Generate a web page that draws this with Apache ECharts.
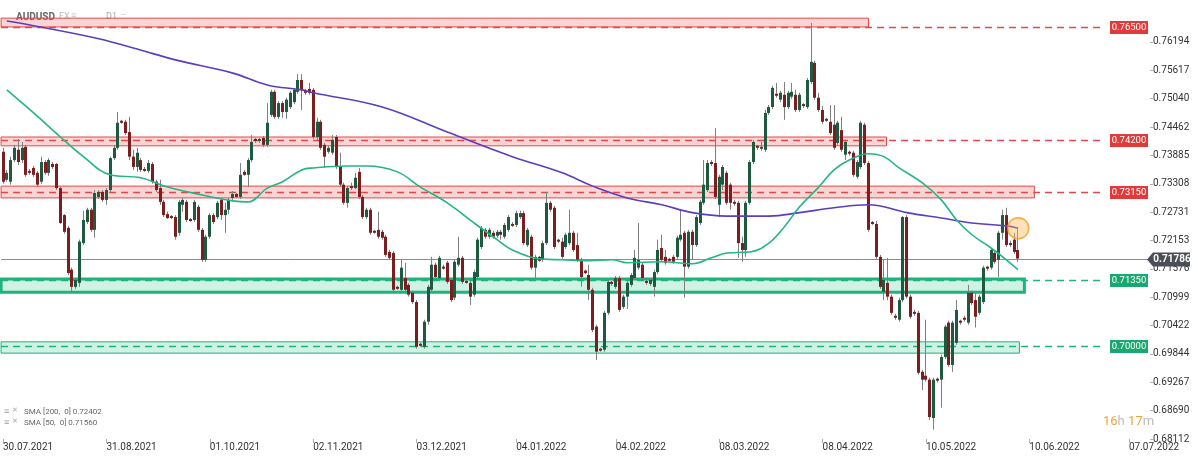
<!DOCTYPE html>
<html><head><meta charset="utf-8">
<script src="https://cdn.jsdelivr.net/npm/echarts@6/dist/echarts.min.js"></script>
<style>html,body{margin:0;padding:0;background:#fff}#c{width:1200px;height:458px}</style>
</head><body><div id="c"></div>
<script>
// ---- DATA ----
const symbol = 'AUDUSD';
const opens = [
0.7396,0.7339,0.7335,0.7379,0.7400,0.7379,0.7406,0.7357,0.7363,0.7353,
0.7335,0.7375,0.7353,0.7371,0.7371,0.7322,0.7267,0.7241,0.7156,0.7121,
0.7129,0.7210,0.7253,0.7278,0.7237,0.7304,0.7314,0.7298,0.7318,0.7383,
0.7404,0.7459,0.7457,0.7436,0.7386,0.7365,0.7379,0.7361,0.7357,0.7371,
0.7335,0.7322,0.7294,0.7269,0.7265,0.7263,0.7231,0.7288,0.7294,0.7259,
0.7257,0.7284,0.7237,0.7176,0.7223,0.7267,0.7263,0.7298,0.7267,0.7278,
0.7302,0.7310,0.7304,0.7355,0.7349,0.7379,0.7422,0.7418,0.7424,0.7410,
0.7471,0.7518,0.7467,0.7495,0.7477,0.7487,0.7497,0.7518,0.7542,0.7520,
0.7524,0.7522,0.7426,0.7457,0.7410,0.7396,0.7394,0.7426,0.7365,0.7329,
0.7292,0.7326,0.7322,0.7355,0.7304,0.7263,0.7278,0.7235,0.7237,0.7233,
0.7223,0.7192,0.7190,0.7121,0.7115,0.7139,0.7125,0.7109,0.7090,0.7005,
0.6999,0.7050,0.7115,0.7166,0.7139,0.7162,0.7170,0.7135,0.7099,0.7166,
0.7180,0.7133,0.7129,0.7105,0.7141,0.7202,0.7237,0.7223,0.7231,0.7225,
0.7233,0.7223,0.7237,0.7249,0.7247,0.7263,0.7271,0.7206,0.7223,0.7160,
0.7182,0.7176,0.7210,0.7292,0.7282,0.7217,0.7213,0.7202,0.7210,0.7231,
0.7206,0.7176,0.7154,0.7145,0.7115,0.7040,0.6995,0.6993,0.7068,0.7131,
0.7121,0.7139,0.7080,0.7101,0.7125,0.7139,0.7160,0.7166,0.7133,0.7127,
0.7121,0.7151,0.7200,0.7182,0.7178,0.7182,0.7182,0.7217,0.7231,0.7162,
0.7233,0.7206,0.7251,0.7292,0.7318,0.7375,0.7373,0.7288,0.7329,0.7353,
0.7329,0.7294,0.7292,0.7210,0.7196,0.7292,0.7375,0.7408,0.7402,0.7400,
0.7475,0.7487,0.7514,0.7502,0.7512,0.7487,0.7508,0.7512,0.7481,0.7493,
0.7487,0.7538,0.7577,0.7506,0.7481,0.7463,0.7457,0.7451,0.7414,0.7440,
0.7390,0.7396,0.7394,0.7345,0.7365,0.7451,0.7373,0.7253,0.7249,0.7182,
0.7111,0.7129,0.7101,0.7062,0.7054,0.7094,0.7263,0.7101,0.7070,0.7068,
0.6948,0.6940,0.6932,0.6854,0.6934,0.6932,0.6978,0.7048,0.6962,0.7007,
0.7052,0.7058,0.7048,0.7109,0.7094,0.7068,0.7090,0.7162,0.7160,0.7190,
0.7176,0.7231,0.7267,0.7210,0.7217,0.7196];
const highs = [
0.7404,0.7359,0.7386,0.7410,0.7422,0.7416,0.7410,0.7361,0.7367,0.7357,
0.7386,0.7379,0.7383,0.7375,0.7373,0.7324,0.7269,0.7245,0.7160,0.7139,
0.7217,0.7276,0.7282,0.7282,0.7318,0.7318,0.7318,0.7322,0.7386,0.7410,
0.7477,0.7461,0.7461,0.7467,0.7400,0.7404,0.7383,0.7365,0.7379,0.7375,
0.7339,0.7339,0.7298,0.7274,0.7267,0.7267,0.7298,0.7302,0.7298,0.7261,
0.7298,0.7288,0.7241,0.7227,0.7271,0.7271,0.7296,0.7302,0.7292,0.7302,
0.7316,0.7312,0.7373,0.7359,0.7383,0.7430,0.7424,0.7424,0.7428,0.7495,
0.7522,0.7522,0.7499,0.7499,0.7506,0.7520,0.7526,0.7554,0.7554,0.7524,
0.7536,0.7526,0.7465,0.7461,0.7414,0.7408,0.7430,0.7430,0.7394,0.7333,
0.7326,0.7333,0.7353,0.7363,0.7308,0.7282,0.7282,0.7237,0.7274,0.7237,
0.7227,0.7196,0.7194,0.7123,0.7176,0.7170,0.7129,0.7113,0.7094,0.7007,
0.7054,0.7125,0.7182,0.7170,0.7184,0.7166,0.7174,0.7139,0.7176,0.7223,
0.7184,0.7135,0.7133,0.7156,0.7221,0.7245,0.7241,0.7241,0.7235,0.7237,
0.7237,0.7251,0.7267,0.7253,0.7276,0.7276,0.7276,0.7241,0.7227,0.7186,
0.7184,0.7215,0.7314,0.7296,0.7286,0.7219,0.7221,0.7231,0.7278,0.7235,
0.7231,0.7180,0.7156,0.7166,0.7119,0.7044,0.6997,0.7072,0.7135,0.7133,
0.7143,0.7143,0.7105,0.7133,0.7149,0.7196,0.7251,0.7170,0.7135,0.7139,
0.7156,0.7217,0.7227,0.7196,0.7180,0.7186,0.7225,0.7278,0.7235,0.7237,
0.7237,0.7267,0.7298,0.7379,0.7379,0.7379,0.7444,0.7349,0.7369,0.7357,
0.7333,0.7298,0.7296,0.7223,0.7296,0.7379,0.7420,0.7410,0.7416,0.7481,
0.7491,0.7530,0.7536,0.7520,0.7538,0.7520,0.7536,0.7522,0.7516,0.7495,
0.7546,0.7658,0.7581,0.7516,0.7489,0.7465,0.7491,0.7491,0.7459,0.7467,
0.7420,0.7398,0.7398,0.7379,0.7459,0.7455,0.7377,0.7255,0.7255,0.7186,
0.7176,0.7180,0.7105,0.7066,0.7099,0.7265,0.7267,0.7105,0.7074,0.7072,
0.6952,0.7054,0.6936,0.6936,0.6936,0.6983,0.7044,0.7052,0.7052,0.7094,
0.7054,0.7062,0.7125,0.7113,0.7109,0.7105,0.7164,0.7164,0.7200,0.7194,
0.7235,0.7278,0.7282,0.7215,0.7231,0.7243];
const lows = [
0.7331,0.7335,0.7329,0.7375,0.7369,0.7373,0.7345,0.7349,0.7345,0.7324,
0.7331,0.7349,0.7347,0.7361,0.7318,0.7249,0.7229,0.7145,0.7109,0.7117,
0.7121,0.7206,0.7249,0.7233,0.7221,0.7300,0.7294,0.7288,0.7314,0.7379,
0.7400,0.7453,0.7430,0.7379,0.7359,0.7355,0.7355,0.7355,0.7353,0.7331,
0.7314,0.7288,0.7263,0.7259,0.7259,0.7217,0.7225,0.7274,0.7253,0.7253,
0.7253,0.7233,0.7172,0.7172,0.7219,0.7249,0.7259,0.7257,0.7231,0.7269,
0.7298,0.7302,0.7300,0.7347,0.7324,0.7375,0.7414,0.7414,0.7406,0.7406,
0.7467,0.7463,0.7463,0.7465,0.7463,0.7483,0.7493,0.7514,0.7481,0.7512,
0.7512,0.7422,0.7420,0.7400,0.7363,0.7392,0.7390,0.7361,0.7324,0.7288,
0.7282,0.7318,0.7320,0.7300,0.7259,0.7259,0.7227,0.7229,0.7219,0.7217,
0.7182,0.7176,0.7111,0.7115,0.7111,0.7111,0.7101,0.7086,0.6995,0.6999,
0.6995,0.7044,0.7111,0.7137,0.7135,0.7156,0.7127,0.7090,0.7094,0.7162,
0.7127,0.7127,0.7084,0.7101,0.7137,0.7198,0.7219,0.7219,0.7219,0.7221,
0.7217,0.7219,0.7233,0.7243,0.7243,0.7259,0.7206,0.7202,0.7156,0.7135,
0.7172,0.7172,0.7206,0.7274,0.7198,0.7210,0.7178,0.7198,0.7206,0.7192,
0.7172,0.7121,0.7147,0.7094,0.7029,0.6972,0.6989,0.6989,0.7064,0.7123,
0.7117,0.7070,0.7076,0.7076,0.7121,0.7135,0.7156,0.7135,0.7125,0.7123,
0.7101,0.7147,0.7172,0.7166,0.7172,0.7168,0.7178,0.7213,0.7099,0.7158,
0.7176,0.7202,0.7247,0.7288,0.7314,0.7367,0.7300,0.7263,0.7318,0.7288,
0.7278,0.7286,0.7180,0.7172,0.7182,0.7288,0.7371,0.7400,0.7398,0.7396,
0.7471,0.7483,0.7506,0.7497,0.7461,0.7483,0.7504,0.7477,0.7477,0.7485,
0.7483,0.7534,0.7502,0.7477,0.7453,0.7457,0.7430,0.7400,0.7410,0.7396,
0.7379,0.7388,0.7345,0.7341,0.7361,0.7369,0.7233,0.7247,0.7178,0.7117,
0.7094,0.7094,0.7064,0.7054,0.7050,0.7090,0.7097,0.7056,0.7062,0.6942,
0.6911,0.6928,0.6850,0.6830,0.6926,0.6875,0.6974,0.6958,0.6948,0.7003,
0.7044,0.7050,0.7044,0.7084,0.7038,0.7064,0.7086,0.7154,0.7156,0.7168,
0.7141,0.7217,0.7202,0.7202,0.7188,0.7172];
const closes = [
0.7335,0.7353,0.7379,0.7404,0.7375,0.7404,0.7349,0.7353,0.7349,0.7329,
0.7375,0.7353,0.7379,0.7365,0.7322,0.7251,0.7233,0.7149,0.7121,0.7135,
0.7213,0.7257,0.7278,0.7237,0.7312,0.7314,0.7298,0.7318,0.7383,0.7404,
0.7455,0.7455,0.7434,0.7386,0.7365,0.7394,0.7359,0.7357,0.7373,0.7335,
0.7318,0.7294,0.7267,0.7261,0.7261,0.7223,0.7294,0.7298,0.7257,0.7255,
0.7294,0.7237,0.7176,0.7223,0.7267,0.7253,0.7292,0.7267,0.7278,0.7298,
0.7310,0.7304,0.7349,0.7349,0.7379,0.7416,0.7418,0.7422,0.7410,0.7455,
0.7518,0.7467,0.7495,0.7477,0.7502,0.7516,0.7522,0.7542,0.7522,0.7516,
0.7516,0.7426,0.7457,0.7404,0.7386,0.7404,0.7420,0.7365,0.7329,0.7292,
0.7322,0.7322,0.7343,0.7304,0.7263,0.7278,0.7231,0.7231,0.7223,0.7221,
0.7186,0.7180,0.7115,0.7117,0.7160,0.7115,0.7105,0.7090,0.6999,0.7001,
0.7050,0.7121,0.7166,0.7141,0.7180,0.7158,0.7131,0.7094,0.7172,0.7180,
0.7131,0.7129,0.7101,0.7151,0.7217,0.7241,0.7223,0.7237,0.7223,0.7233,
0.7227,0.7247,0.7263,0.7245,0.7271,0.7271,0.7210,0.7237,0.7160,0.7182,
0.7174,0.7210,0.7292,0.7278,0.7202,0.7213,0.7182,0.7227,0.7231,0.7196,
0.7176,0.7141,0.7149,0.7115,0.7033,0.6989,0.6991,0.7068,0.7131,0.7127,
0.7139,0.7074,0.7101,0.7129,0.7145,0.7180,0.7176,0.7139,0.7129,0.7135,
0.7151,0.7196,0.7176,0.7170,0.7174,0.7172,0.7221,0.7227,0.7162,0.7233,
0.7206,0.7263,0.7294,0.7329,0.7373,0.7371,0.7304,0.7345,0.7365,0.7292,
0.7292,0.7290,0.7210,0.7196,0.7292,0.7375,0.7416,0.7404,0.7406,0.7475,
0.7487,0.7526,0.7510,0.7516,0.7487,0.7516,0.7518,0.7481,0.7512,0.7489,
0.7542,0.7579,0.7506,0.7481,0.7457,0.7459,0.7434,0.7404,0.7455,0.7400,
0.7416,0.7392,0.7349,0.7375,0.7455,0.7373,0.7237,0.7249,0.7182,0.7121,
0.7135,0.7101,0.7068,0.7058,0.7094,0.7263,0.7101,0.7060,0.7066,0.6946,
0.6932,0.6932,0.6856,0.6932,0.6930,0.6978,0.7040,0.6962,0.7048,0.7074,
0.7048,0.7054,0.7109,0.7088,0.7060,0.7101,0.7160,0.7158,0.7196,0.7172,
0.7231,0.7267,0.7206,0.7206,0.7192,0.71786];

const sma200Idx = [1,7,25,35,45,60,69,78,81,99,116,133,146,154,163,172,180,189,200,208,217,226,236,245,253,262,265];
const sma200Val = [0.7662,0.7654,0.7626,0.7605,0.7583,0.7556,0.7532,0.7522,0.7516,0.7487,0.7436,0.7386,0.7353,0.7326,0.7302,0.7288,0.7272,0.7265,0.7265,0.7272,0.7282,0.7288,0.7272,0.7261,0.7251,0.7245,0.72402];
const sma50Idx = [1,8,15,21,28,36,43,52,60,64,69,73,78,81,90,95,103,109,116,123,129,133,140,146,153,159,163,172,180,185,189,195,200,204,208,213,217,221,226,230,234,240,245,249,253,258,262,265];
const sma50Val = [0.7522,0.7475,0.7426,0.7386,0.7349,0.7343,0.7324,0.7308,0.7296,0.7294,0.7322,0.7335,0.7359,0.7363,0.7367,0.7367,0.7355,0.7324,0.7292,0.7251,0.7217,0.7196,0.7178,0.7176,0.7174,0.7176,0.7170,0.7172,0.7168,0.7180,0.7190,0.7192,0.7210,0.7243,0.7284,0.7324,0.7359,0.7379,0.7392,0.7386,0.7363,0.7333,0.7298,0.7257,0.7227,0.7200,0.7176,0.7156];

const xTickIdx = [0,27,54,81,108,134,160,187,214,241,268,294];
const xTickLabels = ['30.07.2021','31.08.2021','01.10.2021','02.11.2021','03.12.2021','04.01.2022','04.02.2022','08.03.2022','08.04.2022','10.05.2022','10.06.2022','07.07.2022'];
const yTicks = [0.76194,0.75617,0.75040,0.74462,0.73885,0.73308,0.72731,0.72153,0.71576,0.70999,0.70422,0.69844,0.69267,0.68690,0.68112];

const levelValues = [0.7650, 0.7420, 0.7315, 0.7135, 0.7000];
const levelKind   = ['R','R','R','S','S'];
const zoneTop     = [0.7668, 0.7426, 0.7326, 0.7137, 0.7009];
const zoneBottom  = [0.7650, 0.7408, 0.7302, 0.7110, 0.6986];
const zoneEnd     = [226, 230.7, 269.3, 266.7, 265.4];

const lastPrice = 0.71786;
const sma200Last = 0.72402;
const sma50Last = 0.71560;
const timerHours = 16, timerMinutes = 17;

// ---- CHART ----
const FONT = 'Roboto, "Noto Sans", sans-serif';
const chart = echarts.init(document.getElementById('c'), null, {renderer: 'canvas'});
const candleData = opens.map((o, i) => [i, o, closes[i], lows[i], highs[i]]);
const zoneData = levelValues.map((v, k) => [zoneEnd[k], zoneTop[k], zoneBottom[k], v, k]);
const lastIdx = opens.length - 1;

const option = {
  animation: false,
  textStyle: {fontFamily: FONT},
  grid: {left: 0, top: 0, width: 1150, height: 439},
  xAxis: {
    type: 'value', min: -0.5, max: 299.5,
    axisLine: {show: false, onZero: false}, splitLine: {show: false},
    axisTick: {show: true, customValues: xTickIdx, length: 4, lineStyle: {color: '#b0b0b0'}},
    axisLabel: {
      customValues: xTickIdx,
      formatter: v => { const k = xTickIdx.indexOf(Math.round(v)); return k >= 0 ? xTickLabels[k] : ''; },
      align: 'left', margin: 3, color: '#333', fontSize: 10, fontFamily: FONT
    }
  },
  yAxis: {
    type: 'value', position: 'right', min: 0.68112, max: 0.77049,
    axisLine: {show: false, onZero: false}, splitLine: {show: false},
    axisTick: {show: true, customValues: yTicks, length: 3, lineStyle: {color: '#b0b0b0'}},
    axisLabel: {customValues: yTicks, formatter: v => v.toFixed(5), margin: 3, color: '#333', fontSize: 10, fontFamily: FONT}
  },
  series: [
    { // zones, dashed levels and level tags
      type: 'custom', z: 1, silent: true, clip: false,
      data: zoneData, encode: {x: 0, y: [1, 2, 3]},
      renderItem(params, api) {
        const k = api.value(4);
        const sup = levelKind[k] === 'S';
        const cs = params.coordSys;
        const p0 = api.coord([-0.5, api.value(1)]);
        const p1 = api.coord([api.value(0), api.value(2)]);
        const pl = api.coord([-0.5, api.value(3)]);
        const lineEnd = cs.x + cs.width - 45;
        const col = sup ? '#1db37c' : '#e2484a';
        const fill = sup ? 'rgba(40,195,135,0.22)' : 'rgba(240,95,95,0.27)';
        const bw = (sup && k === 3) ? 3 : 1;
        const y = Math.round(pl[1]) + 0.5;
        return {type: 'group', children: [
          {type: 'rect', shape: {x: p0[0], y: p0[1], width: p1[0] - p0[0], height: p1[1] - p0[1]},
           style: {fill: fill, stroke: col, lineWidth: bw}},
          {type: 'line', shape: {x1: p0[0], y1: y, x2: lineEnd, y2: y},
           style: {stroke: col, lineWidth: 1.5, lineDash: [7, 5]}},
          {type: 'rect', shape: {x: lineEnd + 5, y: y - 6.5, width: 38, height: 13},
           style: {fill: sup ? '#19a871' : '#e03a3a'}},
          {type: 'text', style: {x: lineEnd + 24, y: y, text: api.value(3).toFixed(5), fill: '#fff',
            font: '9.5px ' + FONT, align: 'center', verticalAlign: 'middle'}}
        ]};
      }
    },
    { // current price line + tag
      type: 'custom', z: 2, silent: true, clip: false,
      data: [[lastIdx, lastPrice]], encode: {x: 0, y: 1},
      renderItem(params, api) {
        const cs = params.coordSys;
        const p = api.coord([0, api.value(1)]);
        const y = Math.round(p[1]) + 0.5;
        const x0 = cs.x + cs.width - 3;
        return {type: 'group', children: [
          {type: 'line', shape: {x1: cs.x, y1: y, x2: cs.x + cs.width, y2: y}, style: {stroke: '#8e8e8e', lineWidth: 1}},
          {type: 'polygon', z2: 10, shape: {points: [[x0, y], [x0 + 6, y - 7], [x0 + 43, y - 7], [x0 + 43, y + 7], [x0 + 6, y + 7]]},
           style: {fill: '#4a4f57'}},
          {type: 'text', z2: 11, style: {x: x0 + 25, y: y, text: api.value(1).toFixed(5), fill: '#fff',
            font: 'bold 10px ' + FONT, align: 'center', verticalAlign: 'middle'}}
        ]};
      }
    },
    { // candles
      type: 'custom', z: 3, silent: true,
      data: candleData, encode: {x: 0, y: [1, 2, 3, 4]},
      renderItem(params, api) {
        const i = api.value(0);
        const o = api.value(1), c = api.value(2), l = api.value(3), h = api.value(4);
        const pO = api.coord([i, o]), pC = api.coord([i, c]);
        const pL = api.coord([i, l]), pH = api.coord([i, h]);
        const bx = Math.round(pO[0] - 1.5);
        const wx = bx + 1.5;
        const top = Math.min(pO[1], pC[1]);
        const hgt = Math.max(1.2, Math.abs(pO[1] - pC[1]));
        const up = c >= o;
        return {type: 'group', children: [
          {type: 'line', shape: {x1: wx, y1: pH[1], x2: wx, y2: pL[1]}, style: {stroke: '#7f7f7f', lineWidth: 1}},
          {type: 'rect', shape: {x: bx, y: top, width: 3, height: hgt}, style: {fill: up ? '#1d5a40' : '#7c1d1f'}}
        ]};
      }
    },
    {
      name: 'SMA200', type: 'line', z: 4, smooth: 0.4, showSymbol: false, silent: true,
      data: sma200Idx.map((x, k) => [x, sma200Val[k]]),
      lineStyle: {color: '#5b3dc2', width: 1.6}
    },
    {
      name: 'SMA50', type: 'line', z: 4, smooth: 0.4, showSymbol: false, silent: true,
      data: sma50Idx.map((x, k) => [x, sma50Val[k]]),
      lineStyle: {color: '#22b585', width: 1.6}
    },
    {
      type: 'scatter', z: 5, silent: true,
      data: [[lastIdx + 0.1, sma200Last]], symbolSize: 21,
      itemStyle: {color: 'rgba(255,180,80,0.5)', borderColor: '#f29b22', borderWidth: 1.5}
    }
  ],
  graphic: [
    {type: 'text', left: 16, top: 12, style: {text: symbol, fill: '#666', font: 'bold 10px ' + FONT}},
    {type: 'text', left: 59, top: 12, style: {text: 'FX', fill: '#bbb', font: '9px ' + FONT}},
    {type: 'text', left: 71, top: 11, style: {text: '≡', fill: '#c4c4c4', font: '9px ' + FONT}},
    {type: 'text', left: 106, top: 12, style: {text: 'D1', fill: '#aaa', font: '9px ' + FONT}},
    {type: 'text', left: 120, top: 11, style: {text: '—', fill: '#c4c4c4', font: '8px ' + FONT}},
    {type: 'text', left: 4, top: 407, style: {text: '≡', fill: '#999', font: '9px ' + FONT}},
    {type: 'text', left: 12, top: 407, style: {text: '✕', fill: '#aaa', font: '7px ' + FONT}},
    {type: 'text', left: 24, top: 408, style: {text: 'SMA [200,  0] ' + sma200Last.toFixed(5), fill: '#666', font: '8px ' + FONT}},
    {type: 'text', left: 4, top: 418, style: {text: '≡', fill: '#999', font: '9px ' + FONT}},
    {type: 'text', left: 12, top: 418, style: {text: '✕', fill: '#aaa', font: '7px ' + FONT}},
    {type: 'text', left: 24, top: 419, style: {text: 'SMA [50,  0] ' + sma50Last.toFixed(5), fill: '#666', font: '8px ' + FONT}},
    {type: 'text', left: 1103, top: 415, style: {
      text: '{o|' + timerHours + '}{g|h} {o|' + timerMinutes + '}{g|m}',
      rich: {o: {fill: '#f0a33a', font: '13px ' + FONT}, g: {fill: '#bcbcbc', font: '13px ' + FONT}}
    }}
  ]
};
chart.setOption(option);
</script>
</body></html>
